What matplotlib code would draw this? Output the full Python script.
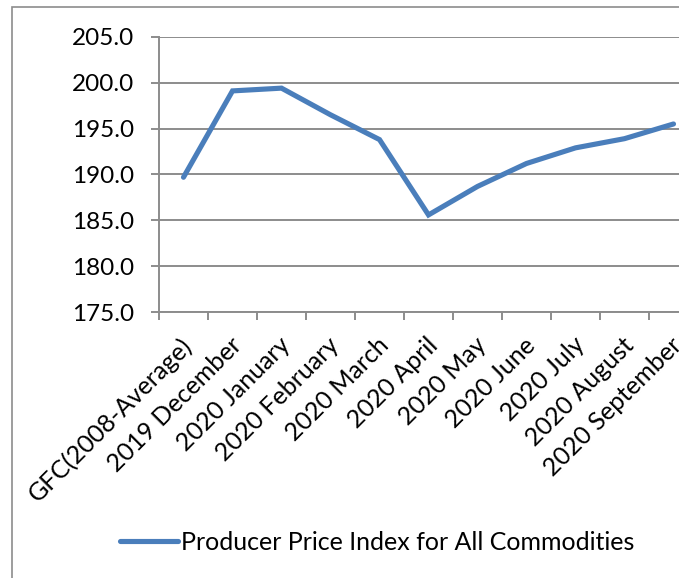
import matplotlib
matplotlib.use("Agg")
import matplotlib.pyplot as plt
import matplotlib.transforms as mtransforms
from matplotlib.patches import Rectangle

categories = ["GFC(2008-Average)", "2019 December", "2020 January", "2020 February",
              "2020 March", "2020 April", "2020 May", "2020 June", "2020 July",
              "2020 August", "2020 September"]
ppi = [189.7, 199.1, 199.4, 196.5, 193.8, 185.6, 188.7, 191.2, 192.9, 193.9, 195.5]
yticks = [175, 180, 185, 190, 195, 200, 205]
series_name = "Producer Price Index for All Commodities"

W, H = 692, 578
plt.rcParams['font.family'] = ['Lato', 'DejaVu Sans']
fig = plt.figure(figsize=(W / 100, H / 100), dpi=100)

grid_c = '#8c8c8c'
line_c = '#4a7ebb'
fs = 18

# axes extends beyond right edge (reference image is cropped)
left, right, top, bottom = 159, 698, 36.7, 312.3
ax = fig.add_axes([left / W, 1 - bottom / H, (right - left) / W, (bottom - top) / H])
x = list(range(len(categories)))
ax.plot(x, ppi, color=line_c, lw=3.7, solid_capstyle='round', solid_joinstyle='miter', zorder=3)
ax.set_xlim(-0.5, len(categories) - 0.5)
ax.set_ylim(175, 205)
ax.set_yticks(yticks)
ax.set_yticklabels([f"{v:.1f}" for v in yticks])
ax.yaxis.grid(True, color=grid_c, lw=1.4)
ax.set_axisbelow(True)
for s in ['top', 'right']:
    ax.spines[s].set_visible(False)
for s in ['left', 'bottom']:
    ax.spines[s].set_color(grid_c)
    ax.spines[s].set_linewidth(1.4)

# category ticks between categories, labels at centers
ax.set_xticks([i - 0.5 for i in x])
ax.set_xticklabels([])
ax.set_xticks(x, minor=True)
ax.set_xticklabels(categories, minor=True, rotation=45, ha='right', va='top',
                   rotation_mode='anchor', fontsize=fs)
ax.tick_params(axis='x', which='major', length=6, width=1.4, color=grid_c)
ax.tick_params(axis='x', which='minor', length=0, pad=15)
ax.tick_params(axis='y', length=6, width=1.4, color=grid_c, pad=12, labelsize=17.5)
offset = mtransforms.ScaledTranslation(-3 / 100, 0, fig.dpi_scale_trans)
for lab in ax.xaxis.get_minorticklabels():
    lab.set_transform(lab.get_transform() + offset)

# legend
handle, = ax.plot([], [], color=line_c, lw=3.7, solid_capstyle='round')
fig.legend([handle], [series_name], loc='center left',
           bbox_to_anchor=(120 / W, 1 - 542 / H), frameon=False, fontsize=fs,
           handlelength=2.3, handletextpad=0.15, borderpad=0, borderaxespad=0)

# outer chart border (cropped on right/bottom)
fig.patches.append(Rectangle((12 / W, -0.1), 1.2, 1 - 7 / H + 0.1, transform=fig.transFigure,
                             fill=False, edgecolor='#8c8c8c', lw=1.2, zorder=0))
# white strip on the right where the reference is cropped
fig.patches.append(Rectangle((678.5 / W, 0), 1, 1, transform=fig.transFigure,
                             facecolor='white', edgecolor='none', zorder=10))

fig.savefig("out.png", dpi=100)
